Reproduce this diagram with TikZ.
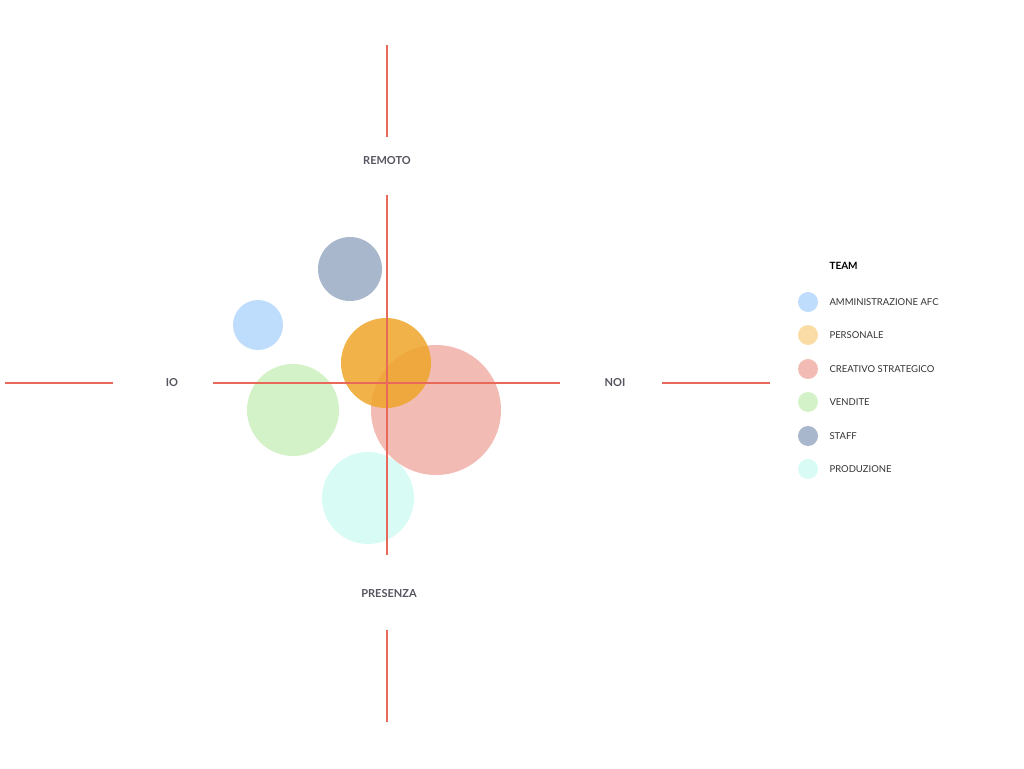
\documentclass[tikz,border=0pt]{standalone}
\usepackage{fontspec}
\setmainfont{Lato}
\begin{document}
\begin{tikzpicture}[x=1pt,y=-1pt,
 ax/.style={draw=axred,line width=1.6pt},
 lab/.style={font=\bfseries\fontsize{11}{13}\selectfont,text=labgray},
 leg/.style={font=\fontsize{9.5}{11}\selectfont,text=black!80,anchor=west},
 bub/.style={fill=#1,draw=none}]
\definecolor{axred}{HTML}{E8685A}
\definecolor{labgray}{HTML}{555560}
\definecolor{cafc}{HTML}{BEDCFB}
\definecolor{cpers}{HTML}{F9DCA6}
\definecolor{cpersd}{HTML}{EFA52A}
\definecolor{ccrea}{HTML}{F2BCB5}
\definecolor{cvend}{HTML}{D3F2C7}
\definecolor{cstaff}{HTML}{A8B7CB}
\definecolor{cprod}{HTML}{D8FBF6}
\useasboundingbox (0,0) rectangle (1024,768);
% bubbles
\fill[bub=cstaff] (350,269) circle (32);
\fill[bub=cafc] (258,325) circle (25);
\fill[bub=cvend] (293,410) circle (46);
\fill[bub=cprod] (368,498) circle (46);
\fill[bub=ccrea] (436,410) circle (65);
\fill[bub=cpersd,opacity=0.85] (386,363) circle (45);
% axes
\coordinate (v1a) at (387,45); \coordinate (v1b) at (387,137);
\coordinate (v2a) at (387,195); \coordinate (v2b) at (387,555);
\coordinate (v3a) at (387,630); \coordinate (v3b) at (387,722);
\coordinate (h1a) at (5,383); \coordinate (h1b) at (113,383);
\coordinate (h2a) at (213,383); \coordinate (h2b) at (560,383);
\coordinate (h3a) at (662,383); \coordinate (h3b) at (770,383);
\draw[ax] (v1a)--(v1b); \draw[ax] (v2a)--(v2b); \draw[ax] (v3a)--(v3b);
\draw[ax] (h1a)--(h1b); \draw[ax] (h2a)--(h2b); \draw[ax] (h3a)--(h3b);
\node[lab] (remoto) at (387,161) {REMOTO};
\node[lab] (presenza) at (389,594) {PRESENZA};
\node[lab] (io) at (172,383) {IO};
\node[lab] (noi) at (615,383) {NOI};
% legend
\node[leg,font=\bfseries\fontsize{10}{12}\selectfont,text=black] (team) at (826,266) {TEAM};
\foreach \c/\t/\y [count=\i] in {cafc/AMMINISTRAZIONE AFC/302, cpers/PERSONALE/335, ccrea/CREATIVO STRATEGICO/369, cvend/VENDITE/402, cstaff/STAFF/436, cprod/PRODUZIONE/469}{
 \fill[bub=\c] (808,\y) circle (10);
 \node[leg] (l\i) at (826,\y) {\t};
}
\end{tikzpicture}
\end{document}
